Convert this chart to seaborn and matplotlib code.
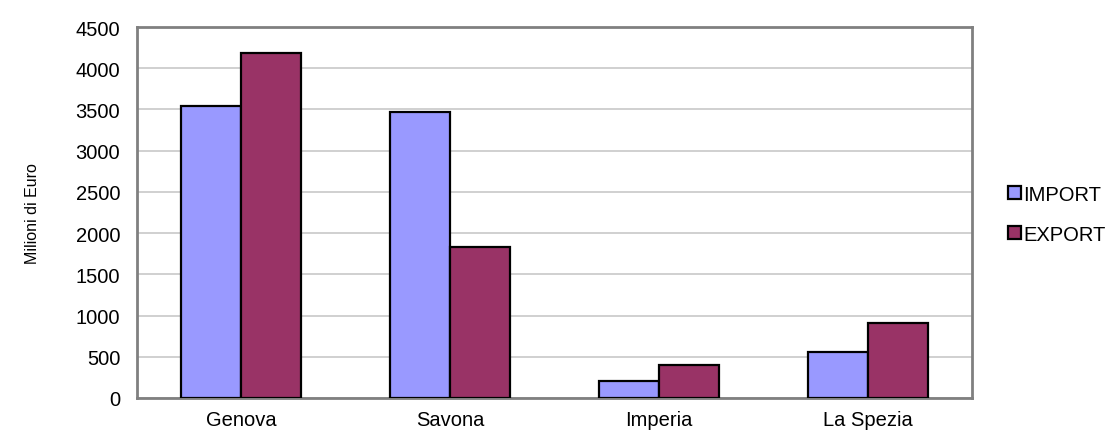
import pandas as pd
import matplotlib.pyplot as plt
import seaborn as sns
from matplotlib.patches import Patch

# ------------------------------------------------------------
# Data (Milioni di Euro)
# ------------------------------------------------------------
provinces = ["Genova", "Savona", "Imperia", "La Spezia"]
import_values = [3540, 3470, 200, 560]
export_values = [4190, 1830, 400, 910]
series_names = ["IMPORT", "EXPORT"]
y_ticks = [0, 500, 1000, 1500, 2000, 2500, 3000, 3500, 4000, 4500]

COLORS = {"IMPORT": "#9999FF", "EXPORT": "#993366"}

df = pd.DataFrame({
    "provincia": provinces * 2,
    "serie": ["IMPORT"] * len(provinces) + ["EXPORT"] * len(provinces),
    "valore": import_values + export_values,
})

# ------------------------------------------------------------
# Plot
# ------------------------------------------------------------
sns.set_style("white")
plt.rcParams["font.family"] = ["Liberation Sans", "DejaVu Sans"]
plt.rcParams["text.color"] = "black"
plt.rcParams["axes.labelcolor"] = "black"

fig = plt.figure(figsize=(11.09, 4.35), dpi=100)
ax = fig.add_axes([0.1235, 0.0828, 0.753, 0.8528])

sns.barplot(
    data=df, x="provincia", y="valore", hue="serie",
    order=provinces, hue_order=series_names, palette=COLORS,
    width=0.575, edgecolor="black", linewidth=1.6,
    saturation=1, ax=ax, legend=False, zorder=3,
)

ax.set_xlim(-0.5, len(provinces) - 0.5)
ax.set_ylim(0, 4500)
ax.set_yticks(y_ticks)
ax.yaxis.grid(True, color="#C8C8C8", linewidth=1.2, zorder=0)
ax.set_axisbelow(True)

for side in ax.spines.values():
    side.set_color("#808080")
    side.set_linewidth(2)

ax.tick_params(axis="both", length=0, labelsize=14.5, colors="black")
ax.tick_params(axis="y", pad=12)
ax.tick_params(axis="x", pad=9)
ax.set_xlabel("")
ax.set_ylabel("Milioni di Euro", fontsize=11.5, labelpad=26)

handles = [Patch(facecolor=COLORS[s], edgecolor="black", linewidth=1.6, label=s)
           for s in series_names]
fig.legend(
    handles=handles, loc="center left", bbox_to_anchor=(0.893, 0.505),
    frameon=False, fontsize=14.5, handlelength=0.6, handleheight=0.6,
    handletextpad=0.15, labelspacing=1.05, labelcolor="black",
)

fig.savefig("out.png", dpi=100)
